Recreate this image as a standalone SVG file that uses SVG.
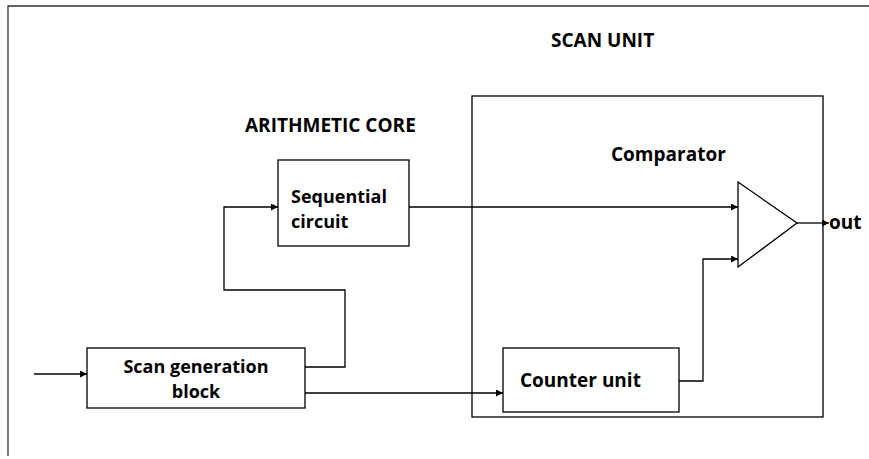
<svg xmlns="http://www.w3.org/2000/svg" width="869" height="459" viewBox="0 0 869 459">
<style>
.box{fill:#fff;stroke:#000;stroke-width:1.3}
.frame{fill:none;stroke:#333;stroke-width:1.3}
.wire{fill:none;stroke:#000;stroke-width:1.3}
text{font-family:"Open Sans","DejaVu Sans",sans-serif;font-weight:bold;font-size:19px;fill:#000}
.ml{font-size:18px}
</style>
<defs>
<marker id="arr" viewBox="0 0 10 10" refX="10" refY="5" markerWidth="8" markerHeight="7" markerUnits="userSpaceOnUse" orient="auto">
<path d="M0,0 L10,5 L0,10 z" fill="#000"/>
</marker>
</defs>
<rect width="869" height="459" fill="#fff"/>
<path class="frame" d="M8,456 V6 H869"/>
<g id="scan-unit">
<rect class="box" x="472" y="96" width="351" height="321"/>
<text x="551" y="47">SCAN UNIT</text>
</g>
<g id="arithmetic-core-label">
<text x="245" y="132">ARITHMETIC CORE</text>
</g>
<g id="sequential">
<rect class="box" x="278" y="160" width="131" height="86"/>
<text class="ml" x="291" y="203">Sequential</text>
<text class="ml" x="291" y="228">circuit</text>
</g>
<g id="scan-gen">
<rect class="box" x="87" y="348" width="218" height="60"/>
<text class="ml" x="196" y="373" text-anchor="middle">Scan generation</text>
<text class="ml" x="196" y="398" text-anchor="middle">block</text>
</g>
<g id="counter">
<rect class="box" x="503" y="348" width="176" height="64"/>
<text x="520" y="387">Counter unit</text>
</g>
<g id="comparator">
<path class="box" d="M738,182 L797,223 L738,267 Z"/>
<text x="611" y="161">Comparator</text>
</g>
<g id="out-label">
<text x="829" y="229">out</text>
</g>
<g id="connectors">
<path class="wire" d="M34,374 H87" marker-end="url(#arr)"/>
<path class="wire" d="M305,367 H345 V290 H224 V207 H278" marker-end="url(#arr)"/>
<path class="wire" d="M305,393 H503" marker-end="url(#arr)"/>
<path class="wire" d="M409,207 H738" marker-end="url(#arr)"/>
<path class="wire" d="M679,381 H703 V259 H738" marker-end="url(#arr)"/>
<path class="wire" d="M797,223 H829" marker-end="url(#arr)"/>
</g>
</svg>
